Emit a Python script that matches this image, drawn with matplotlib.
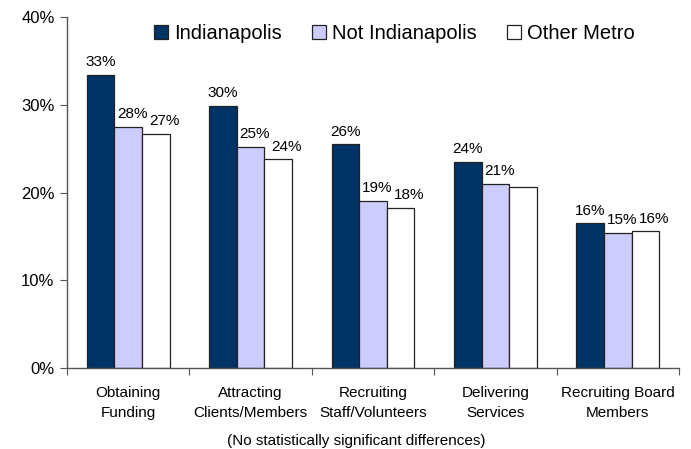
import numpy as np
import matplotlib
matplotlib.use("Agg")
import matplotlib.pyplot as plt

plt.rcParams['font.family'] = ['Liberation Sans', 'DejaVu Sans']

# values (percent)
categories = ['Obtaining\nFunding', 'Attracting\nClients/Members', 'Recruiting\nStaff/Volunteers',
              'Delivering\nServices', 'Recruiting Board\nMembers']
series_names = ['Indianapolis', 'Not Indianapolis', 'Other Metro']
indianapolis = [33.4, 29.9, 25.5, 23.5, 16.5]
not_indianapolis = [27.5, 25.2, 19.1, 21.0, 15.4]
other_metro = [26.7, 23.8, 18.3, 20.6, 15.6]
# data labels as printed (one label hidden in the original)
labels_indy = ['33%', '30%', '26%', '24%', '16%']
labels_not = ['28%', '25%', '19%', '21%', '15%']
labels_other = ['27%', '24%', '18%', '', '16%']
yticks = [0, 10, 20, 30, 40]
footnote = '(No statistically significant differences)'

colors = ['#003366', '#CCCCFF', '#FFFFFF']
label_dx = [0, 3, 6]  # labels sit slightly right of the bar centre, as in the original

fig = plt.figure(figsize=(6.91, 4.49), dpi=100)
ax = fig.add_axes([0.097, 0.180, 0.8856, 0.782])

x = np.arange(len(categories))
w = 0.225
all_vals = [indianapolis, not_indianapolis, other_metro]
all_labels = [labels_indy, labels_not, labels_other]
for i, (vals, labs) in enumerate(zip(all_vals, all_labels)):
    pos = x + (i - 1) * w
    ax.bar(pos, vals, width=w, color=colors[i], edgecolor='#222222', linewidth=0.9,
           label=series_names[i], zorder=2)
    for px, v, t in zip(pos, vals, labs):
        ax.annotate(t, (px, v), xytext=(label_dx[i], 4), textcoords='offset points',
                    ha='center', va='bottom', fontsize=11)

ax.set_xlim(-0.5, len(categories) - 0.5)
ax.set_ylim(0, 40)
ax.set_yticks(yticks)
ax.set_yticklabels([f'{t}%' for t in yticks], fontsize=12)

# tick marks at category boundaries, labels at centres
ax.set_xticks(np.arange(-0.5, len(categories), 1.0))
ax.set_xticklabels([])
ax.set_xticks(x, minor=True)
ax.set_xticklabels(categories, minor=True, fontsize=11, linespacing=1.55)
ax.tick_params(axis='x', which='major', direction='out', length=5, color='#555555')
ax.tick_params(axis='x', which='minor', length=0, pad=13)
ax.tick_params(axis='y', direction='out', length=5, color='#555555', pad=4)

for s in ['top', 'right']:
    ax.spines[s].set_visible(False)
for s in ['left', 'bottom']:
    ax.spines[s].set_color('#555555')
    ax.spines[s].set_linewidth(1.0)

ax.legend(loc='center', bbox_to_anchor=(0.535, 0.952), ncol=3, frameon=False,
          fontsize=14.5, handlelength=0.7, handleheight=0.7, handletextpad=0.3,
          columnspacing=1.5)

fig.text(0.515, 0.018, footnote, ha='center', va='center', fontsize=11)

fig.savefig('out.png', dpi=100)
